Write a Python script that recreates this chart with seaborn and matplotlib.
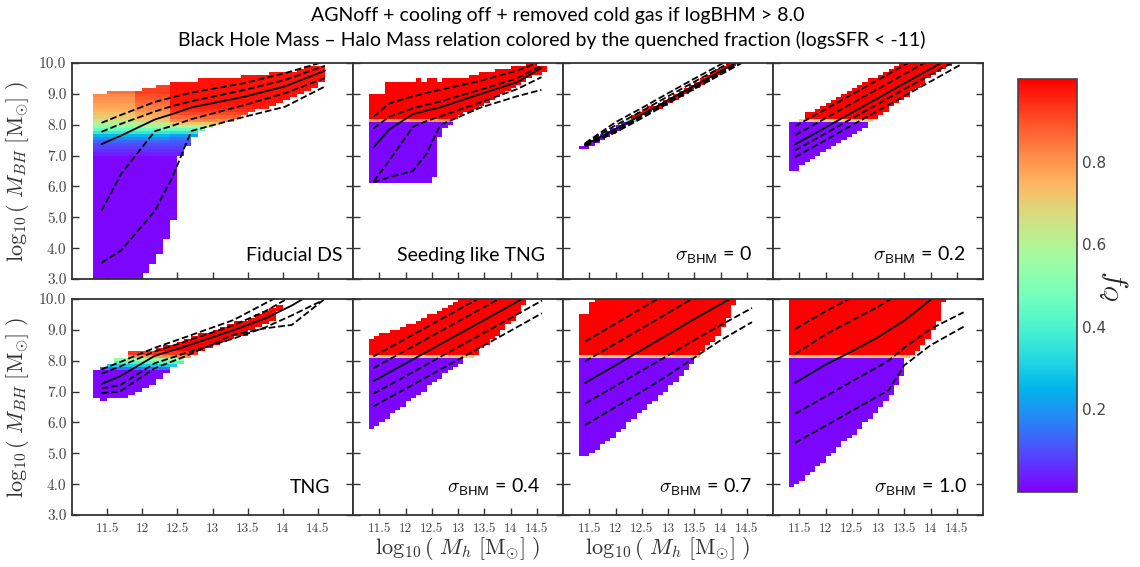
import numpy as np
import pandas as pd
import matplotlib
matplotlib.use("Agg")
import matplotlib.pyplot as plt
from matplotlib.colors import Normalize
from matplotlib.cm import ScalarMappable
import seaborn as sns

# ---------------------------------------------------------------- text
title_line1 = "AGNoff + cooling off + removed cold gas if logBHM > 8.0"
title_line2 = ("Black Hole Mass \u2013 Halo Mass relation colored by the "
               "quenched fraction (logsSFR < -11)")
panel_names = ["Fiducial DS", "Seeding like TNG",
               r"$\sigma_{\mathsf{BHM}}$ = 0", r"$\sigma_{\mathsf{BHM}}$ = 0.2",
               "TNG", r"$\sigma_{\mathsf{BHM}}$ = 0.4",
               r"$\sigma_{\mathsf{BHM}}$ = 0.7", r"$\sigma_{\mathsf{BHM}}$ = 1.0"]
ylabel_text = r"$\log_{10}(\ M_{BH}\ [\mathrm{M}_{\odot}]\ )$"
xlabel_text = r"$\log_{10}(\ M_h\ [\mathrm{M}_{\odot}]\ )$"
cbar_label = r"$f_Q$"
xtick_values = [11.5, 12.0, 12.5, 13.0, 13.5, 14.0, 14.5]
xtick_labels = ["11.5", "12", "12.5", "13", "13.5", "14", "14.5"]
ytick_values = [3, 4, 5, 6, 7, 8, 9, 10]
ytick_labels = ["3.0", "4.0", "5.0", "6.0", "7.0", "8.0", "9.0", "10.0"]
cbar_ticks = [0.2, 0.4, 0.6, 0.8]

# ------------------------------------------------ occupied cells per panel
# columns are 0.1 dex wide in log Mh, starting at 11.3; for each column the
# lowest occupied log BHM bin edge (lo) and the upper edge (hi)
fid_lo = [3.0, 3.0, 3.0, 3.0, 3.0, 3.0, 3.0, 3.2, 3.5, 3.8, 4.3, 4.9, 7.0, 7.3,
          7.6, 7.8, 7.9, 8.0, 8.1, 8.1, 8.2, 8.3, 8.4, 8.5, 8.5, 8.6, 8.7, 8.8,
          8.9, 9.0, 9.1, 9.2, 9.4]
fid_hi = [9.0, 9.0, 9.1, 9.1, 9.1, 9.1, 9.1, 9.2, 9.2, 9.3, 9.3, 9.4, 9.4, 9.4,
          9.4, 9.5, 9.5, 9.5, 9.5, 9.5, 9.5, 9.6, 9.6, 9.6, 9.6, 9.7, 9.7, 9.7,
          9.7, 9.8, 9.9, 9.9, 9.9]
seed_lo = [6.1, 6.1, 6.1, 6.1, 6.1, 6.1, 6.1, 6.1, 6.1, 6.1, 6.1, 6.1, 6.3, 7.6,
           7.9, 8.0, 8.2, 8.3, 8.4, 8.4, 8.5, 8.6, 8.7, 8.8, 8.9, 9.0, 9.1, 9.2,
           9.3, 9.4, 9.5, 9.6, 9.6, 9.7]
seed_hi = [9.0, 9.0, 9.0, 9.4, 9.4, 9.4, 9.4, 9.4, 9.4, 9.5, 9.4, 9.5, 9.5, 9.4,
           9.5, 9.5, 9.5, 9.5, 9.5, 9.6, 9.6, 9.7, 9.7, 9.7, 9.8, 9.8, 9.8, 9.9,
           9.9, 9.9, 10.0, 10.0, 9.9, 9.9]
s00_lo = [7.2, 7.2, 7.3, 7.4, 7.5, 7.6, 7.7, 7.8, 7.9, 8.0, 8.1, 8.2, 8.3, 8.4,
          8.5, 8.5, 8.6, 8.7, 8.8, 8.9, 9.0, 9.1, 9.2, 9.3, 9.4, 9.5, 9.6, 9.7,
          9.8, 9.9]
s00_hi = [7.3, 7.4, 7.5, 7.6, 7.7, 7.8, 7.9, 8.0, 8.1, 8.2, 8.3, 8.4, 8.5, 8.6,
          8.6, 8.7, 8.8, 8.9, 9.0, 9.1, 9.2, 9.3, 9.4, 9.5, 9.6, 9.7, 9.8, 9.9,
          10.0, 10.0]
s02_lo = [6.5, 6.5, 6.7, 6.8, 6.9, 7.0, 7.1, 7.2, 7.3, 7.4, 7.5, 7.6, 7.7, 7.8,
          7.9, 8.1, 8.2, 8.3, 8.4, 8.6, 8.7, 8.8, 8.9, 9.1, 9.2, 9.3, 9.5, 9.6,
          9.7, 9.8, 9.9]
s02_hi = [8.1, 8.1, 8.2, 8.4, 8.4, 8.5, 8.6, 8.7, 8.8, 8.9, 9.0, 9.1, 9.2, 9.3,
          9.4, 9.5, 9.5, 9.6, 9.7, 9.8, 9.9, 10.0, 10.0, 10.0, 10.0, 10.0, 10.0,
          10.0, 10.0, 10.0, 10.0]
tng_lo = [6.8, 6.7, 6.8, 6.8, 6.8, 6.9, 7.0, 7.1, 7.2, 7.4, 7.6, 7.8, 7.9, 8.1,
          8.2, 8.3, 8.4, 8.5, 8.6, 8.7, 8.8, 8.8, 9.0, 9.1, 9.2, 9.3, 9.6]
tng_hi = [7.7, 7.8, 7.9, 8.1, 8.1, 8.3, 8.3, 8.3, 8.3, 8.4, 8.5, 8.5, 8.6, 8.7,
          8.8, 8.9, 8.9, 9.0, 9.1, 9.2, 9.3, 9.3, 9.4, 9.5, 9.6, 9.7, 9.8]
s04_lo = [5.8, 5.9, 6.0, 6.1, 6.3, 6.4, 6.5, 6.7, 6.8, 6.9, 7.0, 7.2, 7.3, 7.4,
          7.6, 7.7, 7.8, 7.9, 8.1, 8.1, 8.2, 8.4, 8.5, 8.7, 8.8, 9.0, 9.2, 9.3,
          9.5, 9.8]
s04_hi = [8.7, 8.8, 8.9, 8.9, 9.0, 9.0, 9.1, 9.2, 9.2, 9.3, 9.4, 9.5, 9.5, 9.6,
          9.7, 9.8, 9.9, 10.0, 10.0, 10.0, 10.0, 10.0, 10.0, 10.0, 10.0, 10.0,
          10.0, 10.0, 10.0, 10.0]
s07_lo = [4.9, 4.9, 5.0, 5.1, 5.3, 5.4, 5.5, 5.7, 5.8, 6.0, 6.1, 6.3, 6.4, 6.6,
          6.7, 6.9, 7.0, 7.2, 7.3, 7.5, 7.7, 7.9, 8.1, 8.3, 8.5, 8.6, 8.8, 9.1,
          9.4, 9.8]
s07_hi = [9.5, 9.5, 9.9, 10.0, 10.0, 10.0, 10.0, 10.0, 10.0, 10.0, 10.0, 10.0,
          10.0, 10.0, 10.0, 10.0, 10.0, 10.0, 10.0, 10.0, 10.0, 10.0, 10.0, 10.0,
          10.0, 10.0, 10.0, 10.0, 10.0, 10.0]
s10_lo = [3.9, 4.0, 4.1, 4.3, 4.4, 4.6, 4.7, 4.9, 5.0, 5.2, 5.4, 5.5, 5.6, 5.8,
          6.0, 6.1, 6.3, 6.5, 6.7, 6.9, 7.2, 7.5, 8.1, 8.2, 8.3, 8.5, 8.7, 9.0,
          9.3, 9.9]
s10_hi = [10.0, 10.0, 10.0, 10.0, 10.0, 10.0, 10.0, 10.0, 10.0, 10.0, 10.0,
          10.0, 10.0, 10.0, 10.0, 10.0, 10.0, 10.0, 10.0, 10.0, 10.0, 10.0, 10.0,
          10.0, 10.0, 10.0, 10.0, 10.0, 10.0, 10.0]

# ---------------------------------------- quenched fraction per BHM row
fq_floor = 0.01   # fully star forming cells (purple)
fid_fq_rows = [7.0, 7.1, 7.2, 7.3, 7.4, 7.5, 7.6, 7.7, 7.8, 7.9, 8.0, 8.1, 8.2,
               8.3, 8.4, 8.5, 8.6, 8.7, 8.8, 8.9, 9.0]
fid_fq_low = [0.04, 0.06, 0.08, 0.10, 0.13, 0.18, 0.26, 0.36, 0.45, 0.53, 0.60,
              0.66, 0.70, 0.73, 0.75, 0.77, 0.78, 0.80, 0.80, 0.82, 0.85]
fid_fq_mid = [0.04, 0.06, 0.08, 0.10, 0.13, 0.18, 0.26, 0.36, 0.46, 0.55, 0.63,
              0.70, 0.75, 0.78, 0.81, 0.83, 0.85, 0.87, 0.89, 0.90, 0.92]
fid_fq_high = [0.04, 0.06, 0.08, 0.10, 0.12, 0.15, 0.22, 0.35, 0.46, 0.58, 0.72,
               0.82, 0.87, 0.91, 0.94, 0.96, 0.97, 0.98, 0.98, 0.98, 0.98]
edge_fq_rows = [8.1, 8.2]
seed_fq = [0.80, 1.0]
s00_fq = [0.40, 1.0]
s02_fq = [0.68, 1.0]
s04_fq = [0.70, 1.0]
s07_fq = [0.70, 1.0]
s10_fq = [0.72, 1.0]
tng_fq_rows = [7.7, 7.8, 7.9, 8.0, 8.1, 8.2, 8.3]
tng_fq = [0.15, 0.30, 0.42, 0.55, 0.80, 0.93, 1.0]

# ------------------------------------------- percentile lines per panel
fid_line_mh = [11.42, 11.70, 12.18, 12.42, 12.70, 13.46, 14.03, 14.60]
fid_p025 = [3.52, 3.93, 5.21, 6.25, 7.80, 8.26, 8.58, 9.24]
fid_p16 = [5.21, 6.41, 7.79, 7.96, 8.18, 8.64, 9.02, 9.51]
fid_p50 = [7.37, 7.65, 8.17, 8.34, 8.56, 8.91, 9.24, 9.75]
fid_p84 = [7.77, 8.03, 8.43, 8.60, 8.76, 9.13, 9.45, 9.91]
fid_p975 = [8.06, 8.32, 8.74, 8.88, 9.04, 9.35, 9.67, 10.05]

seed_line_mh = [11.39, 11.69, 12.14, 12.40, 12.66, 13.42, 14.12, 14.59]
seed_p025 = [6.13, 6.30, 6.50, 7.06, 7.99, 8.55, 8.92, 9.13]
seed_p16 = [6.15, 6.84, 7.93, 8.12, 8.27, 8.72, 9.15, 9.54]
seed_p50 = [7.26, 7.85, 8.34, 8.46, 8.56, 8.99, 9.37, 9.84]
seed_p84 = [7.88, 8.26, 8.53, 8.65, 8.75, 9.13, 9.50, 9.91]
seed_p975 = [8.26, 8.69, 8.92, 9.03, 9.13, 9.42, 9.75, 10.05]

s00_line_mh = [11.42, 12.0, 12.5, 13.0, 13.5, 14.0, 14.5]
s00_p025 = [7.30, 7.75, 8.21, 8.69, 9.16, 9.62, 10.09]
s00_p16 = [7.32, 7.80, 8.26, 8.74, 9.21, 9.67, 10.14]
s00_p50 = [7.35, 7.86, 8.32, 8.80, 9.27, 9.73, 10.20]
s00_p84 = [7.38, 7.98, 8.44, 8.92, 9.39, 9.85, 10.32]
s00_p975 = [7.40, 8.08, 8.54, 9.02, 9.49, 9.95, 10.42]

s02_line_mh = [11.42, 12.0, 12.5, 13.0, 13.5, 14.0, 14.6]
s02_p025 = [6.95, 7.50, 7.98, 8.45, 8.93, 9.40, 9.97]
s02_p16 = [7.17, 7.72, 8.20, 8.67, 9.15, 9.62, 10.19]
s02_p50 = [7.36, 7.91, 8.39, 8.86, 9.34, 9.81, 10.38]
s02_p84 = [7.66, 8.21, 8.69, 9.16, 9.64, 10.11, 10.68]
s02_p975 = [7.95, 8.50, 8.98, 9.45, 9.93, 10.40, 10.97]

tng_line_mh = [11.42, 11.68, 12.18, 12.61, 13.30, 13.75, 14.13, 14.58]
tng_p025 = [6.95, 7.00, 7.76, 8.14, 8.84, 9.05, 9.16, 9.97]
tng_p16 = [7.11, 7.20, 7.92, 8.24, 8.72, 9.08, 9.47, 9.97]
tng_p50 = [7.25, 7.49, 8.16, 8.46, 8.99, 9.37, 9.79, 10.40]
tng_p84 = [7.58, 7.81, 8.30, 8.62, 9.15, 9.60, 10.10, 10.60]
tng_p975 = [7.72, 7.95, 8.42, 8.76, 9.32, 9.86, 10.30, 10.70]

s04_line_mh = [11.39, 12.0, 12.5, 13.0, 13.5, 14.0, 14.6]
s04_p025 = [6.52, 7.09, 7.56, 8.03, 8.50, 8.97, 9.54]
s04_p16 = [6.93, 7.50, 7.97, 8.44, 8.91, 9.38, 9.95]
s04_p50 = [7.34, 7.91, 8.38, 8.85, 9.32, 9.79, 10.36]
s04_p84 = [7.76, 8.33, 8.80, 9.27, 9.74, 10.21, 10.78]
s04_p975 = [8.14, 8.71, 9.18, 9.65, 10.12, 10.59, 11.16]

s07_line_mh = [11.42, 12.0, 12.5, 13.0, 13.5, 14.0, 14.6]
s07_p025 = [5.91, 6.50, 7.00, 7.53, 8.10, 8.66, 9.25]
s07_p16 = [6.61, 7.18, 7.68, 8.17, 8.67, 9.15, 9.71]
s07_p50 = [7.28, 7.85, 8.35, 8.85, 9.35, 9.83, 10.40]
s07_p84 = [7.98, 8.55, 9.05, 9.55, 10.05, 10.50, 11.10]
s07_p975 = [8.62, 9.20, 9.70, 10.20, 10.70, 11.20, 11.80]

s10_line_mh = [11.42, 12.0, 12.5, 13.0, 13.2, 13.5, 14.0, 14.63]
s10_p025 = [5.34, 5.89, 6.37, 6.85, 7.04, 7.85, 8.50, 9.10]
s10_p16 = [6.28, 6.84, 7.33, 7.80, 8.00, 8.42, 9.03, 9.57]
s10_p50 = [7.28, 7.87, 8.30, 8.76, 8.98, 9.30, 9.97, 10.70]
s10_p84 = [8.22, 8.85, 9.30, 9.75, 9.95, 10.30, 10.90, 11.50]
s10_p975 = [9.03, 9.60, 10.05, 10.50, 10.70, 11.00, 11.60, 12.20]

first_column_mh = 11.3
bin_step = 0.1

panels = [
    dict(lo=fid_lo, hi=fid_hi,
         fq=[(11.3, fid_fq_rows, fid_fq_low), (11.9, fid_fq_rows, fid_fq_mid),
             (12.4, fid_fq_rows, fid_fq_high)],
         lines=(fid_line_mh, fid_p025, fid_p16, fid_p50, fid_p84, fid_p975)),
    dict(lo=seed_lo, hi=seed_hi, fq=[(11.3, edge_fq_rows, seed_fq)],
         lines=(seed_line_mh, seed_p025, seed_p16, seed_p50, seed_p84, seed_p975)),
    dict(lo=s00_lo, hi=s00_hi, fq=[(11.3, edge_fq_rows, s00_fq)],
         lines=(s00_line_mh, s00_p025, s00_p16, s00_p50, s00_p84, s00_p975)),
    dict(lo=s02_lo, hi=s02_hi, fq=[(11.3, edge_fq_rows, s02_fq)],
         lines=(s02_line_mh, s02_p025, s02_p16, s02_p50, s02_p84, s02_p975)),
    dict(lo=tng_lo, hi=tng_hi, fq=[(11.3, tng_fq_rows, tng_fq)],
         lines=(tng_line_mh, tng_p025, tng_p16, tng_p50, tng_p84, tng_p975)),
    dict(lo=s04_lo, hi=s04_hi, fq=[(11.3, edge_fq_rows, s04_fq)],
         lines=(s04_line_mh, s04_p025, s04_p16, s04_p50, s04_p84, s04_p975)),
    dict(lo=s07_lo, hi=s07_hi, fq=[(11.3, edge_fq_rows, s07_fq)],
         lines=(s07_line_mh, s07_p025, s07_p16, s07_p50, s07_p84, s07_p975)),
    dict(lo=s10_lo, hi=s10_hi, fq=[(11.3, edge_fq_rows, s10_fq)],
         lines=(s10_line_mh, s10_p025, s10_p16, s10_p50, s10_p84, s10_p975)),
]


def fq_lookup(profiles, mh, bhm):
    rows, vals = profiles[0][1], profiles[0][2]
    for mh_min, r, v in profiles:
        if mh >= mh_min - 1e-6:
            rows, vals = r, v
    r = np.round(np.asarray(rows, dtype=float), 2)
    if bhm < r[0] - 1e-6:
        return fq_floor
    idx = int(np.searchsorted(r, bhm + 1e-6)) - 1
    return vals[min(idx, len(vals) - 1)]


def cell_table(p):
    recs = []
    for i, (a, b) in enumerate(zip(p["lo"], p["hi"])):
        mh = round(first_column_mh + bin_step * i, 2)
        n = int(round((b - a) / bin_step))
        for k in range(n):
            y = round(a + bin_step * k, 2)
            recs.append((mh + bin_step / 2, y + bin_step / 2,
                         fq_lookup(p["fq"], mh, y)))
    return pd.DataFrame(recs, columns=["mh", "bhm", "fq"])


# ---------------------------------------------------------------- style
sns.set_style("white")
plt.rcParams["font.family"] = ["Lato", "DejaVu Sans"]
plt.rcParams["mathtext.fontset"] = "cm"

cmap = sns.color_palette("rainbow", as_cmap=True)
mh_edges = np.round(np.arange(11.0, 15.0001, bin_step), 2)
bhm_edges = np.round(np.arange(3.0, 10.0001, bin_step), 2)

W, H = 1140, 567
fig = plt.figure(figsize=(W / 100, H / 100), dpi=100)
gs = fig.add_gridspec(2, 4, left=72 / W, right=983 / W, top=1 - 63 / H,
                      bottom=1 - 515 / H, width_ratios=[281, 210, 210, 210],
                      wspace=0, hspace=20 / 216)

label_offsets = [(-10, 18), (-18, 18), (-21, 18), (-18, 18),
                 (-23, 22), (-23, 22), (-21, 22), (-16, 22)]
spine_col = "#333333"
tick_col = "#444444"

for idx, p in enumerate(panels):
    r, c = divmod(idx, 4)
    ax = fig.add_subplot(gs[r, c])
    df = cell_table(p)
    sns.histplot(data=df, x="mh", y="bhm", weights="fq",
                 bins=(mh_edges, bhm_edges), cmap=cmap, vmin=0, vmax=1,
                 cbar=False, ax=ax)
    mh_line = p["lines"][0]
    for j, ys in enumerate(p["lines"][1:]):
        sns.lineplot(x=mh_line, y=ys, ax=ax, color="black",
                     linewidth=1.3, linestyle="-" if j == 2 else "--",
                     estimator=None, sort=False)
    ax.set_xlim(11.0, 15.0)
    ax.set_ylim(3.0, 10.0)
    ax.set_xticks(xtick_values)
    ax.set_yticks(ytick_values)
    ax.tick_params(direction="in", length=5, width=1, colors=spine_col,
                   left=True, right=True, bottom=True, top=False,
                   labelleft=(c == 0), labelbottom=(r == 1))
    if r == 1:
        ax.set_xticklabels(xtick_labels, fontfamily="cmr10", fontsize=9.5,
                           color=tick_col)
    if c == 0:
        ax.set_yticklabels(ytick_labels, fontfamily="cmr10", fontsize=11,
                           color=tick_col)
    ax.tick_params(axis="y", pad=4)
    ax.tick_params(axis="x", pad=6)
    for s in ax.spines.values():
        s.set_color(spine_col)
        s.set_linewidth(1.3)
    ax.set_xlabel("")
    ax.set_ylabel("")
    if c == 0:
        ax.set_ylabel(ylabel_text, fontsize=16, color="#333333", labelpad=6)
    if r == 1 and c in (1, 2):
        ax.set_xlabel(xlabel_text, fontsize=16, color="#333333", labelpad=0)
    ax.annotate(panel_names[idx], xy=(1, 0), xycoords="axes fraction",
                xytext=label_offsets[idx], textcoords="offset pixels",
                ha="right", va="baseline", fontsize=14, color="black")

# colorbar
cax = fig.add_axes([1018 / W, 1 - 492 / H, 59 / W, 413 / H])
sm = ScalarMappable(norm=Normalize(0, 1), cmap=cmap)
cb = fig.colorbar(sm, cax=cax, ticks=cbar_ticks)
cb.ax.set_yticklabels([f"{t:.1f}" for t in cbar_ticks])
cb.ax.tick_params(direction="in", length=4, width=1, colors="#444444",
                  labelsize=11)
for lab in cb.ax.get_yticklabels():
    lab.set_fontfamily("DejaVu Sans")
cb.outline.set_edgecolor("#444444")
cb.outline.set_linewidth(1.2)
cb.set_label(cbar_label, rotation=270, fontsize=21, labelpad=17,
             color="#222222")

fig.text(558 / W, 1 - 16 / H, title_line1, ha="center", va="center",
         fontsize=14, color="black")
fig.text(552 / W, 1 - 40 / H, title_line2, ha="center", va="center",
         fontsize=14, color="black")

fig.savefig("out.png", dpi=100)
